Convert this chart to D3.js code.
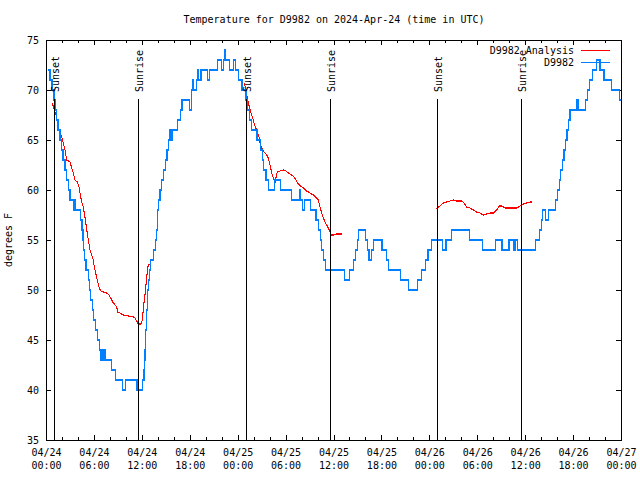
<!DOCTYPE html>
<html><head><meta charset="utf-8">
<script src="https://cdn.jsdelivr.net/npm/d3@7"></script>
<style>
body{margin:0;background:#fff}
svg text{font-family:"DejaVu Sans Mono","Liberation Mono",monospace;font-size:10px;fill:#000}
</style>
</head><body><svg id="c" width="640" height="480"></svg>
<script>
const title = "Temperature for D9982 on 2024-Apr-24 (time in UTC)";
const yLabel = "degrees F";
const seriesNames = ["D9982 Analysis", "D9982"];
const yTicks = [35, 40, 45, 50, 55, 60, 65, 70, 75];
const xMajorHours = [0, 6, 12, 18, 24, 30, 36, 42, 48, 54, 60, 66, 72];
const xMinorHours = [2, 4, 8, 10, 14, 16, 20, 22, 26, 28, 32, 34, 38, 40, 44, 46, 50, 52, 56, 58, 62, 64, 68, 70];
const sunsetHours = [1.03, 25.05, 49.0];
const sunriseHours = [11.58, 35.58, 59.5];

// Observations (value holds from each time until the next)
const obsHours = [
0.19,0.50,0.75,1.00,1.13,1.31,1.50,1.75,1.97,2.13,
2.38,2.59,2.79,3.01,3.42,3.54,3.69,4.35,4.51,4.63,
4.73,4.80,5.01,5.30,5.45,5.60,5.80,5.92,6.22,6.47,
6.70,6.89,7.05,7.17,7.30,7.45,8.23,8.73,9.60,9.99,
11.40,12.12,12.27,12.35,12.40,12.45,12.51,12.57,12.64,12.70,
12.76,12.83,12.93,13.09,13.51,13.76,13.88,13.94,14.00,14.09,
14.28,14.46,14.69,14.96,15.15,15.34,15.53,15.65,15.84,16.47,
16.85,17.03,17.97,18.20,18.35,18.51,18.82,18.95,19.13,19.41,
20.26,20.47,21.45,21.98,22.20,22.33,22.48,22.98,23.45,23.70,
24.08,24.54,25.04,25.25,25.45,25.75,26.42,26.85,27.08,27.23,
27.55,27.90,28.62,29.39,30.74,31.74,31.87,32.14,32.37,33.10,
33.81,34.12,34.35,34.53,34.73,34.98,37.38,38.04,38.54,38.76,
38.97,39.17,40.01,40.26,40.45,40.78,40.99,42.07,42.64,42.89,
44.35,45.43,46.52,47.06,47.52,47.83,48.27,49.65,50.09,50.74,
53.07,54.66,56.33,57.10,57.98,58.60,58.83,59.04,61.30,61.80,
62.02,62.20,62.49,62.93,63.80,64.05,64.26,64.45,64.65,64.86,
65.05,65.24,65.43,65.62,66.43,66.62,67.59,67.78,68.03,68.43,
68.97,69.37,69.87,70.81,71.81,71.94];
const obsTemps = [
72,71,70,69,68,67,66,65,64,63,
62,61,60,59,58,59,58,57,56,55,
54,53,52,51,50,49,48,47,46,45,
44,43,44,43,44,43,42,41,40,41,
40,41,42,43,44,45,46,47,48,49,
50,51,52,53,54,55,56,57,58,59,
60,61,62,63,64,65,66,65,66,67,
68,69,68,70,71,70,71,72,71,72,
71,72,73,72,73,74,73,72,73,72,
71,70,69,68,67,66,65,64,63,62,
61,60,61,60,59,60,59,58,59,58,
57,56,55,54,53,52,51,52,53,54,
55,56,55,54,53,54,55,54,53,52,
51,50,51,52,53,54,55,54,55,56,
55,54,55,54,55,54,55,54,55,56,
57,58,57,58,59,60,61,62,63,64,
65,66,67,68,69,68,69,70,71,72,
73,72,71,70,69,69];

// Analysis, three separate night-time runs
const anaHours1 = [0.81,0.91,1.13,1.34,1.54,1.75,1.97,2.17,2.38,2.59,3.01,3.22,3.42,3.63,3.92,4.13,4.26,4.47,4.67,4.88,5.10,5.30,5.51,5.72,5.92,6.05,6.22,6.42,6.67,6.85,7.18,7.60,7.89,8.10,8.35,8.64,8.85,8.98,9.27,9.68,10.31,10.93,11.14,11.36,11.56,11.90,12.06,12.18,12.31,12.40,12.49,12.61,12.69,12.81,12.96];
const anaTemps1 = [68.7,68.3,67.8,67.3,66.3,65.7,65.3,64.7,64.0,63.0,62.8,62.2,61.7,61.0,60.8,60.3,59.7,58.8,58.3,57.3,56.0,55.0,54.0,53.5,53.0,52.3,51.7,51.0,50.2,49.9,49.8,49.7,49.5,49.2,48.8,48.5,48.3,47.8,47.7,47.5,47.4,47.3,47.2,46.9,46.6,46.6,47.0,48.0,49.0,49.5,50.3,51.2,52.0,52.5,52.6];
const anaHours2 = [24.83,25.04,25.26,25.46,25.67,25.88,26.05,26.26,26.46,26.67,26.80,27.01,27.30,27.64,27.84,28.05,28.26,28.46,28.68,28.78,28.96,29.30,29.72,30.05,30.34,30.77,31.06,31.31,31.52,31.72,32.22,32.64,33.06,33.47,33.90,34.10,34.31,34.52,34.72,34.94,35.35,35.56,35.78,36.06,36.40,37.03];
const anaTemps2 = [70.7,70.0,69.0,68.3,67.7,67.2,66.7,66.2,65.8,65.3,64.7,64.2,63.8,63.5,63.2,62.5,61.7,61.2,60.7,61.2,61.8,61.9,62.0,61.9,61.7,61.5,61.3,61.0,60.7,60.5,60.2,59.9,59.7,59.5,59.2,59.0,58.3,57.7,57.2,56.8,56.2,55.8,55.5,55.5,55.6,55.6];
const anaHours3 = [48.84,49.00,49.34,49.75,50.18,50.59,51.00,51.43,52.05,52.34,52.68,53.09,53.51,53.93,54.35,54.76,55.18,55.60,56.01,56.44,56.76,57.06,57.48,57.89,58.94,59.35,59.77,60.19,60.61,60.90];
const anaTemps3 = [58.1,58.2,58.4,58.7,58.8,58.9,59.0,58.9,58.9,58.7,58.3,58.2,58.0,57.8,57.7,57.5,57.6,57.7,57.7,58.0,58.4,58.4,58.2,58.2,58.2,58.4,58.6,58.7,58.8,58.8];

const colors = {analysis: "#ff0000", obs: "#0080ff"};

const L = 46, R = 621, T = 40, B = 440;
const t0 = Date.UTC(2024, 3, 24);
const toDate = h => new Date(t0 + h * 3600000);
const x = d3.scaleUtc().domain([toDate(0), toDate(72)]).range([L, R]);
const y = d3.scaleLinear().domain([35, 75]).range([B, T]);

const svg = d3.select("#c");
svg.append("rect").attr("width", 640).attr("height", 480).attr("fill", "#fff");

// Title
svg.append("text").attr("x", 334).attr("y", 23).attr("text-anchor", "middle").text(title);

// Y label
svg.append("text").attr("transform", "translate(12,240) rotate(-90)")
  .attr("text-anchor", "middle").text(yLabel);

// Axes
const majorDates = xMajorHours.map(toDate), minorDates = xMinorHours.map(toDate);
const gx = svg.append("g").attr("transform", `translate(0,${B})`)
  .call(d3.axisBottom(x).tickValues(majorDates).tickSizeInner(-5).tickSizeOuter(0).tickFormat(() => ""));
svg.append("g").attr("transform", `translate(0,${B})`)
  .call(d3.axisBottom(x).tickValues(minorDates).tickSizeInner(-3).tickSizeOuter(0).tickFormat(() => ""));
svg.append("g").attr("transform", `translate(0,${T})`)
  .call(d3.axisTop(x).tickValues(majorDates).tickSizeInner(-5).tickSizeOuter(0).tickFormat(() => ""));
svg.append("g").attr("transform", `translate(0,${T})`)
  .call(d3.axisTop(x).tickValues(minorDates).tickSizeInner(-3).tickSizeOuter(0).tickFormat(() => ""));
svg.append("g").attr("transform", `translate(${L},0)`)
  .call(d3.axisLeft(y).tickValues(yTicks).tickSizeInner(-5).tickSizeOuter(0).tickPadding(7).tickFormat(d3.format("d")));
svg.append("g").attr("transform", `translate(${R},0)`)
  .call(d3.axisRight(y).tickValues(yTicks).tickSizeInner(-5).tickSizeOuter(0).tickFormat(() => ""));
svg.selectAll("g .domain, g .tick line").attr("stroke", "#000").attr("shape-rendering", "crispEdges");

const fd = d3.utcFormat("%m/%d"), ft = d3.utcFormat("%H:%M");
gx.selectAll(".tick").each(function(d) {
  const t = d3.select(this).append("text").attr("text-anchor", "middle");
  t.append("tspan").attr("x", 0).attr("y", 16).text(fd(d));
  t.append("tspan").attr("x", 0).attr("y", 29).text(ft(d));
});

// Frame
svg.append("rect").attr("x", L + 0.5).attr("y", T + 0.5).attr("width", R - L).attr("height", B - T)
  .attr("fill", "none").attr("stroke", "#000").attr("shape-rendering", "crispEdges");

// Data
const clip = svg.append("clipPath").attr("id", "pc").append("rect")
  .attr("x", L).attr("y", T).attr("width", R - L).attr("height", B - T);
const plot = svg.append("g").attr("clip-path", "url(#pc)");

const ptLine = d3.line().x(d => x(toDate(d[0]))).y(d => y(d[1]));
[[anaHours1, anaTemps1], [anaHours2, anaTemps2], [anaHours3, anaTemps3]].forEach(([hs, ts]) => {
  plot.append("path").datum(hs.map((h, i) => [h, ts[i]]))
    .attr("d", ptLine).attr("fill", "none").attr("stroke", colors.analysis).attr("stroke-width", 1.1)
    .attr("shape-rendering", "crispEdges");
});
const stepLine = d3.line().x(d => x(toDate(d[0]))).y(d => y(d[1])).curve(d3.curveStepAfter);
plot.append("path").datum(obsHours.map((h, i) => [h, obsTemps[i]]))
  .attr("d", stepLine).attr("fill", "none").attr("stroke", colors.obs).attr("stroke-width", 1.1)
  .attr("shape-rendering", "crispEdges");

// Sunset / Sunrise markers
const sun = sunsetHours.map(h => ({h, label: "Sunset"})).concat(sunriseHours.map(h => ({h, label: "Sunrise"})));
sun.forEach(s => {
  const sx = Math.round(x(toDate(s.h))) + 0.5;
  svg.append("line").attr("x1", sx).attr("x2", sx).attr("y1", 99).attr("y2", B)
    .attr("stroke", "#000").attr("stroke-width", 1).attr("shape-rendering", "crispEdges");
  svg.append("text").attr("transform", `translate(${sx + 4.5},92) rotate(-90)`).text(s.label);
});

// Legend
const legend = [{name: seriesNames[0], c: colors.analysis}, {name: seriesNames[1], c: colors.obs}];
legend.forEach((e, i) => {
  const ly = 50 + i * 12;
  svg.append("text").attr("x", 574).attr("y", ly + 3.5).attr("text-anchor", "end").text(e.name);
  svg.append("line").attr("x1", 581).attr("x2", 610).attr("y1", ly + 0.5).attr("y2", ly + 0.5)
    .attr("stroke", e.c).attr("stroke-width", 1).attr("shape-rendering", "crispEdges");
});
</script></body></html>
